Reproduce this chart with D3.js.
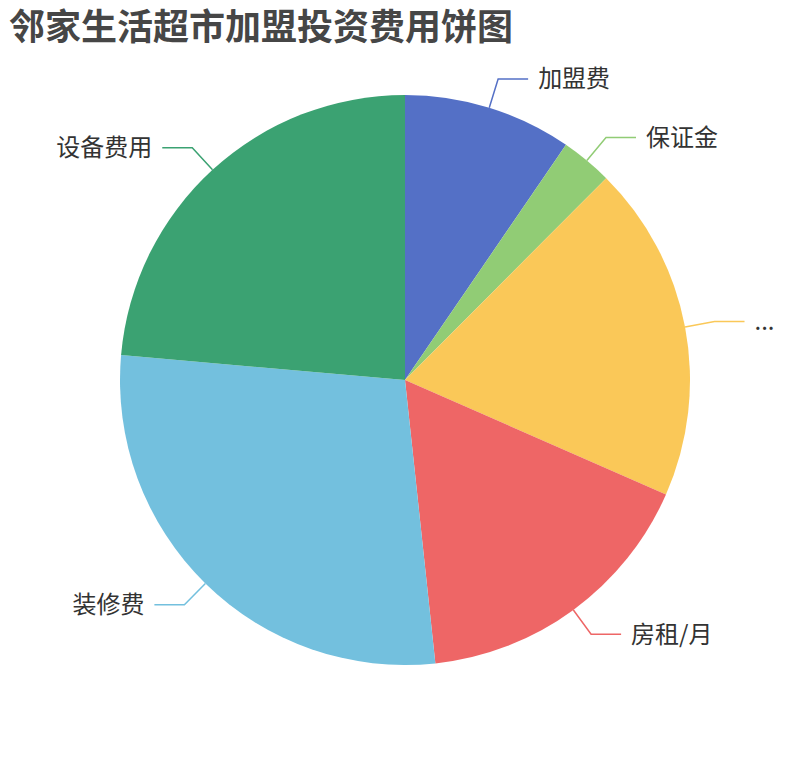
<!DOCTYPE html>
<html>
<head>
<meta charset="utf-8">
<script src="https://cdn.jsdelivr.net/npm/d3@7/dist/d3.min.js"></script>
<style>
  html, body { margin: 0; padding: 0; background: #fff; }
  svg text { font-family: 'Noto Sans CJK SC', 'Noto Sans', sans-serif; }
</style>
</head>
<body>
<div id="chart"></div>
<script>
"use strict";
// data
const names = ['加盟费', '保证金', '...', '房租/月', '装修费', '设备费用'];
const values = [6.8, 2.08, 13.6, 11.9, 20, 16.8];
const colors = ['#5470c6', '#91cc75', '#fac858', '#ee6666', '#73c0de', '#3ba272'];
const title = '邻家生活超市加盟投资费用饼图';

const width = 810, height = 760;
const cx = 405, cy = 380, radius = 285;
const len1 = 30, len2 = 30, gap = 10;

const svg = d3.select('#chart')
  .append('svg')
  .attr('width', width)
  .attr('height', height)
  .attr('viewBox', '0 0 ' + width + ' ' + height)
  .style('background', '#fff');

svg.append('text')
  .attr('x', 9)
  .attr('y', 40)
  .attr('fill', '#464646')
  .style('font-size', '36px')
  .style('font-weight', 'bold')
  .text(title);

const pie = d3.pie().sort(null).value(d => d);
const arc = d3.arc().innerRadius(0).outerRadius(radius);
const arcs = pie(values);

const chart = svg.append('g')
  .attr('transform', 'translate(' + cx + ',' + cy + ')');

chart.selectAll('path.slice')
  .data(arcs)
  .enter()
  .append('path')
  .attr('class', 'slice')
  .attr('d', arc)
  .style('fill', d => colors[d.index]);

// label lines
function pointAt(angle, r) {
  return [Math.sin(angle) * r, -Math.cos(angle) * r];
}
const labels = chart.selectAll('g.label')
  .data(arcs)
  .enter()
  .append('g')
  .attr('class', 'label');

labels.each(function (d) {
  const mid = (d.startAngle + d.endAngle) / 2;
  const p0 = pointAt(mid, radius);
  const p1 = pointAt(mid, radius + len1);
  const right = Math.sin(mid) >= 0;
  const p2 = [p1[0] + (right ? len2 : -len2), p1[1]];
  const g = d3.select(this);
  g.append('path')
    .attr('d', d3.line()([p0, p1, p2]))
    .attr('fill', 'none')
    .attr('stroke', colors[d.index])
    .attr('stroke-width', 1.5);
  g.append('text')
    .attr('x', p2[0] + (right ? gap : -gap))
    .attr('y', p2[1])
    .attr('dy', '0.35em')
    .attr('text-anchor', right ? 'start' : 'end')
    .attr('fill', '#333')
    .style('font-size', '24px')
    .text(names[d.index]);
});
</script>
</body>
</html>
